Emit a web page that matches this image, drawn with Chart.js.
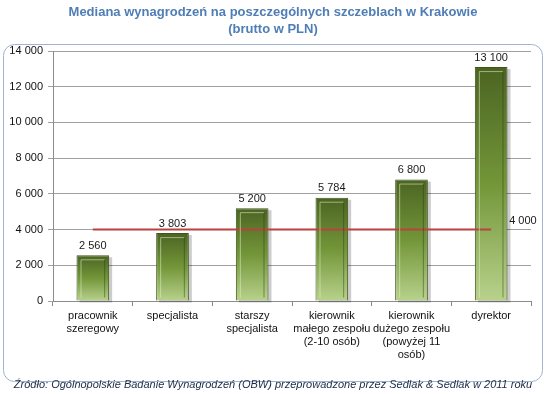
<!DOCTYPE html>
<html>
<head>
<meta charset="utf-8">
<script src="https://cdn.jsdelivr.net/npm/chart.js@4"></script>
<style>
  html, body { margin: 0; padding: 0; background: #fff; }
  #wrap { width: 547px; height: 394px; }
</style>
</head>
<body>
<div id="wrap"><canvas id="barChart" width="547" height="394"></canvas></div>
<script>
// chart data
const categories = [
    ['pracownik', 'szeregowy'],
    'specjalista',
    ['starszy', 'specjalista'],
    ['kierownik', 'małego zespołu', '(2-10 osób)'],
    ['kierownik', 'dużego zespołu', '(powyżej 11', 'osób)'],
    'dyrektor'
];
const medianValues = [2560, 3803, 5200, 5784, 6800, 13100];
const averageLine = [4000, 4000, 4000, 4000, 4000, 4000];
const yTicks = [0, 2000, 4000, 6000, 8000, 10000, 12000, 14000];
const titleLines = ['Mediana wynagrodzeń na poszczególnych szczeblach w Krakowie', '(brutto w PLN)'];
const sourceText = 'Źródło: Ogólnopolskie Badanie Wynagrodzeń (OBW) przeprowadzone przez Sedlak & Sedlak w 2011 roku';

const FONT = "'Liberation Sans', Arial, sans-serif";

function fmt(v) {
    return String(v).replace(/\B(?=(\d{3})+(?!\d))/g, ' ');
}

document.addEventListener('DOMContentLoaded', function () {
    const ctx = document.getElementById('barChart').getContext('2d');

    // frame, title and source text
    const framePlugin = {
        id: 'frame',
        beforeDraw(chart) {
            const c = chart.ctx;
            c.save();
            c.fillStyle = '#fff';
            c.fillRect(0, 0, chart.width, chart.height);
            c.strokeStyle = '#9fb4cf';
            c.lineWidth = 1;
            c.beginPath();
            c.roundRect(3.5, 44.5, 539, 337, 11);
            c.stroke();
            c.fillStyle = '#4f7db5';
            c.font = 'bold 13px ' + FONT;
            c.textAlign = 'center';
            c.textBaseline = 'middle';
            c.fillText(titleLines[0], 273, 12);
            c.fillText(titleLines[1], 273, 29);
            c.fillStyle = '#1c2b45';
            c.font = 'italic 11px ' + FONT;
            c.fillText(sourceText, 273, 385);
            c.restore();
        }
    };

    // bar shadows, bevel highlights and value labels
    const barDecor = {
        id: 'barDecor',
        beforeDatasetsDraw(chart) {
            const c = chart.ctx;
            const meta = chart.getDatasetMeta(0);
            c.save();
            meta.data.forEach(bar => {
                const w = bar.width;
                c.fillStyle = 'rgba(0,0,0,0.2)';
                c.fillRect(bar.x - w / 2 + 3, bar.y + 2, w, bar.base - bar.y);
            });
            c.restore();
        },
        afterDatasetsDraw(chart) {
            const c = chart.ctx;
            const bars = chart.getDatasetMeta(0).data;
            c.save();
            bars.forEach((bar, i) => {
                const l = bar.x - bar.width / 2;
                const r = bar.x + bar.width / 2;
                c.strokeStyle = 'rgba(230,240,200,0.55)';
                c.lineWidth = 1;
                c.beginPath();
                c.moveTo(l + 4.5, bar.base - 3);
                c.lineTo(l + 4.5, bar.y + 4.5);
                c.lineTo(r - 4.5, bar.y + 4.5);
                c.stroke();
                c.strokeStyle = 'rgba(40,55,15,0.45)';
                c.beginPath();
                c.moveTo(r - 4.5, bar.y + 4.5);
                c.lineTo(r - 4.5, bar.base - 3);
                c.stroke();
                c.fillStyle = '#1a1a1a';
                c.font = '11px ' + FONT;
                c.textAlign = 'center';
                c.textBaseline = 'bottom';
                c.fillText(fmt(medianValues[i]), bar.x, bar.y - 4);
            });
            const pts = chart.getDatasetMeta(1).data;
            const last = pts[pts.length - 1];
            c.textAlign = 'left';
            c.textBaseline = 'middle';
            c.fillText(fmt(averageLine[averageLine.length - 1]), last.x + 18, last.y - 9);
            c.restore();
        }
    };

    const barChart = new Chart(ctx, {
        type: 'bar',
        data: {
            labels: categories,
            datasets: [{
                label: 'Mediana',
                data: medianValues,
                backgroundColor: function (context) {
                    const chart = context.chart;
                    if (!chart.chartArea || context.parsed === undefined) return '#6f8f35';
                    const yScale = chart.scales.y;
                    const top = yScale.getPixelForValue(context.parsed.y);
                    const bottom = yScale.getPixelForValue(0);
                    const g = chart.ctx.createLinearGradient(0, top, 0, bottom);
                    g.addColorStop(0, '#4b6422');
                    g.addColorStop(0.5, '#739639');
                    g.addColorStop(1, '#b8d28c');
                    return g;
                },
                borderColor: '#3e5418',
                borderWidth: 1,
                barPercentage: 0.41,
                categoryPercentage: 1,
                order: 2
            }, {
                type: 'line',
                label: 'Średnia',
                data: averageLine,
                borderColor: '#b8433f',
                borderWidth: 2,
                pointRadius: 0,
                fill: false,
                order: 1
            }]
        },
        options: {
            responsive: false,
            animation: false,
            layout: {
                padding: { top: 51, left: 8, right: 16, bottom: 33 }
            },
            plugins: {
                legend: { display: false },
                tooltip: { enabled: false }
            },
            scales: {
                x: {
                    offset: true,
                    grid: {
                        offset: true,
                        drawOnChartArea: false,
                        drawTicks: true,
                        tickLength: 5,
                        color: '#8c8c8c'
                    },
                    border: { color: '#8c8c8c' },
                    ticks: {
                        color: '#111',
                        font: { family: FONT, size: 11, lineHeight: 1.2 },
                        padding: 3,
                        maxRotation: 0,
                        autoSkip: false
                    },
                    afterFit: scale => { scale.height = 60; }
                },
                y: {
                    min: 0,
                    max: 14000,
                    afterBuildTicks: scale => {
                        scale.ticks = yTicks.map(v => ({ value: v }));
                    },
                    grid: {
                        color: '#a0a0a0',
                        tickLength: 5
                    },
                    border: { color: '#8c8c8c' },
                    ticks: {
                        color: '#111',
                        font: { family: FONT, size: 11 },
                        padding: 5,
                        callback: v => fmt(v)
                    },
                    afterFit: scale => { scale.width = 45; }
                }
            }
        },
        plugins: [framePlugin, barDecor]
    });
});
</script>
</body>
</html>
